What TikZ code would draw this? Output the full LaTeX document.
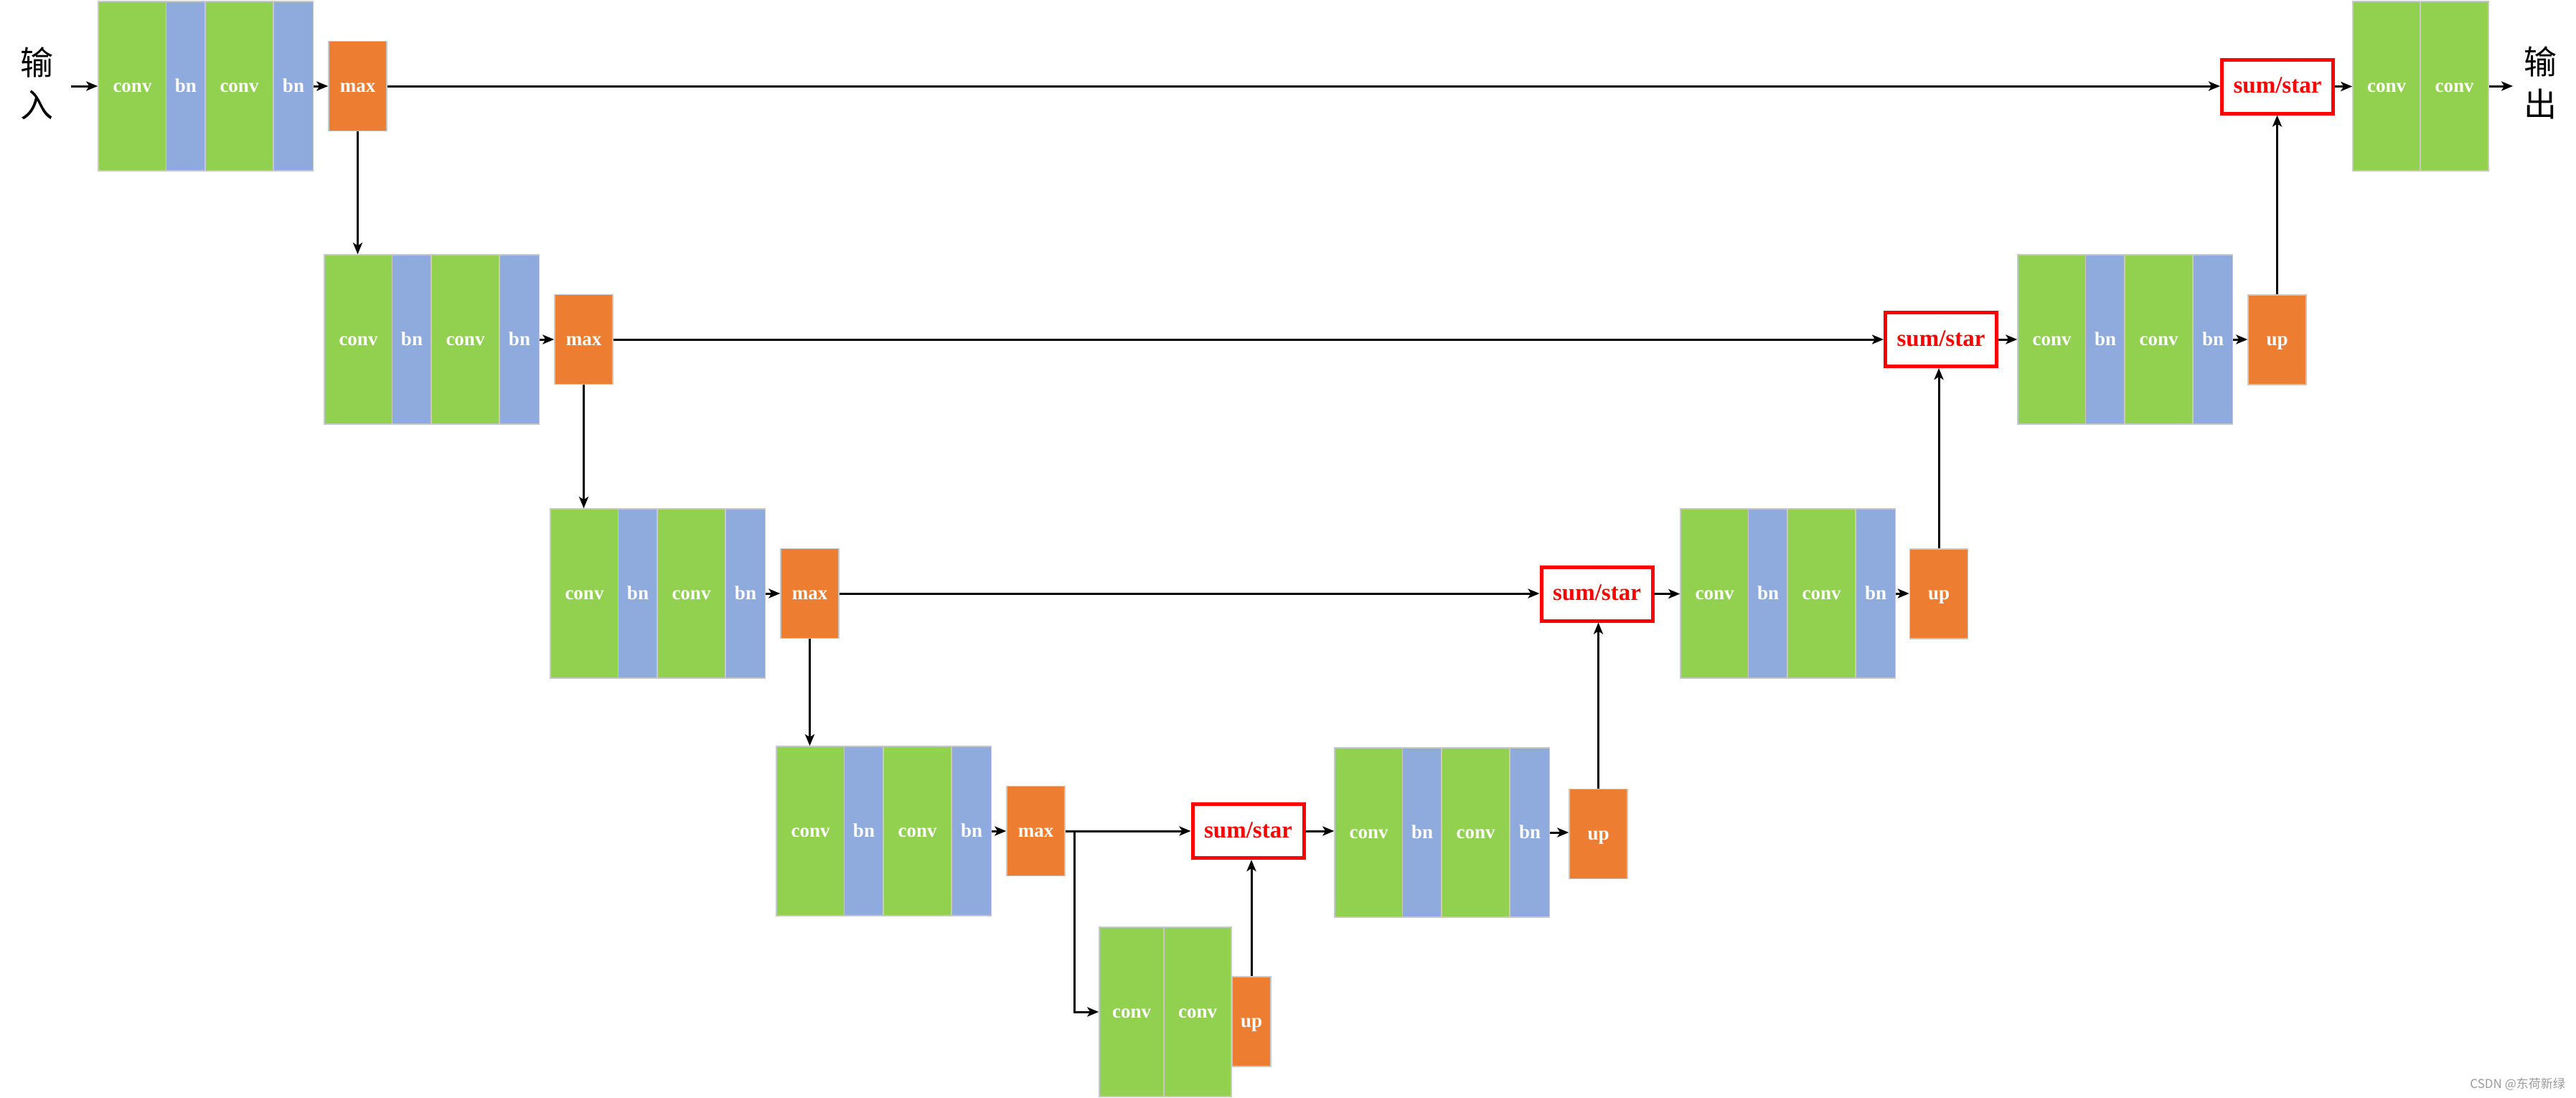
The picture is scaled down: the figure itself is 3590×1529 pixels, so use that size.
\documentclass[tikz,border=0pt]{standalone}
\usepackage{fontspec}
\setmainfont{Liberation Serif}
\newfontfamily\cjk{Noto Sans CJK SC}
\usetikzlibrary{arrows.meta}
\definecolor{cgreen}{HTML}{92D050}
\definecolor{cblue}{HTML}{8FAADC}
\definecolor{corange}{HTML}{ED7D31}
\definecolor{cedge}{HTML}{C8C8C8}
\definecolor{cred}{HTML}{FF0000}
\definecolor{cwm}{HTML}{9A9A9A}
\begin{document}
\begin{tikzpicture}[x=1pt,y=-1pt,
  blk/.style={draw=cedge,line width=1.5pt,inner sep=0pt,minimum height=236pt,
    text=white,font=\fontsize{27}{30}\selectfont\bfseries,text height=16pt,text depth=0pt},
  convbox/.style={blk,fill=cgreen,minimum width=95pt},
  bnbox/.style={blk,fill=cblue,minimum width=55pt},
  opbox/.style={blk,fill=corange,minimum width=81pt,minimum height=125pt},
  ssbox/.style={draw=cred,line width=5pt,fill=white,minimum width=155pt,minimum height=75pt,
    inner sep=0pt,text=cred,font=\fontsize{33}{36}\selectfont\bfseries,text height=18.5pt,text depth=0pt},
  conn/.style={line width=3pt,-{Stealth[length=16pt,width=13pt,inset=4pt]}},
  cjklabel/.style={font=\cjk\fontsize{46}{59}\selectfont,align=center,inner sep=0pt}]
\useasboundingbox (0,0) rectangle (3590,1529);

% left (encoder) rows
\foreach \k/\xo/\yc in {1/137/120, 2/452/473, 3/767/827, 4/1082/1158} {
  \node[convbox] (L\k-c1) at (\xo+47.5,\yc) {conv};
  \node[bnbox]   (L\k-b1) at (\xo+122,\yc) {bn};
  \node[convbox] (L\k-c2) at (\xo+196.5,\yc) {conv};
  \node[bnbox]   (L\k-b2) at (\xo+272,\yc) {bn};
  \node[opbox]   (L\k-m)  at (\xo+361.5,\yc) {max};
}

% right (decoder) rows
\foreach \k/\xo/\yc/\ux/\uy in {2/2812/473/3173.5/473.5, 3/2342/827/2702/827.5, 4/1860/1160/2227.5/1162} {
  \node[convbox] (R\k-c1) at (\xo+47.5,\yc) {conv};
  \node[bnbox]   (R\k-b1) at (\xo+122,\yc) {bn};
  \node[convbox] (R\k-c2) at (\xo+196.5,\yc) {conv};
  \node[bnbox]   (R\k-b2) at (\xo+272,\yc) {bn};
  \node[opbox]   (R\k-u)  at (\ux,\uy) {up};
}

% sum/star boxes
\node[ssbox] (S1) at (3174,120.5) {sum/star};
\node[ssbox] (S2) at (2705,473) {sum/star};
\node[ssbox] (S3) at (2225.5,827.5) {sum/star};
\node[ssbox] (S4) at (1739.5,1158) {sum/star};

% output convs
\node[convbox,minimum width=94pt] (O1) at (3326,120) {conv};
\node[convbox] (O2) at (3420.5,120) {conv};

% bottom block
\node[convbox,minimum width=90pt] (B1) at (1577,1410) {conv};
\node[convbox,minimum width=94pt] (B2) at (1669,1410) {conv};
\node[opbox,minimum width=54pt] (Bu) at (1744,1423.5) {up};

% labels
\node[cjklabel] (inlbl) at (51,116) {输\\入};
\node[cjklabel] (outlbl) at (3540,115) {输\\出};
\node[anchor=east,inner sep=0pt,text=cwm,font=\cjk\fontsize{17}{20}\selectfont] (wm) at (3575,1511) {CSDN @东荷新绿};

\coordinate (inpt) at (99,120);
\coordinate (outpt) at (3502,120);
\coordinate (br) at (1497,1158);

% connectors
\draw[conn] (inpt) -- (L1-c1.west);
\foreach \k in {1,2,3,4} {
  \draw[conn] (L\k-b2.east) -- (L\k-m.west);
}
\draw[conn] (L1-m.east) -- (L1-m.east -| S1.west);
\draw[conn] (L2-m.east) -- (L2-m.east -| S2.west);
\draw[conn] (L3-m.east) -- (L3-m.east -| S3.west);
\draw[conn] (L4-m.east) -- (L4-m.east -| S4.west);
\draw[conn] (L1-m.south) -- (L1-m.south |- L2-c1.north);
\draw[conn] (L2-m.south) -- (L2-m.south |- L3-c1.north);
\draw[conn] (L3-m.south) -- (L3-m.south |- L4-c1.north);
\draw[conn] (br) |- (B1.west);
\draw[conn] (Bu.north) -- (Bu.north |- S4.south);
\foreach \k in {2,3,4} {
  \draw[conn] (R\k-b2.east) -- (R\k-b2.east -| R\k-u.west);
}
\draw[conn] (S4.east) -- (S4.east -| R4-c1.west);
\draw[conn] (S3.east) -- (S3.east -| R3-c1.west);
\draw[conn] (S2.east) -- (S2.east -| R2-c1.west);
\draw[conn] (S1.east) -- (S1.east -| O1.west);
\draw[conn] (R4-u.north) -- (R4-u.north |- S3.south);
\draw[conn] (R3-u.north) -- (R3-u.north |- S2.south);
\draw[conn] (R2-u.north) -- (R2-u.north |- S1.south);
\draw[conn] (O2.east) -- (outpt);
\end{tikzpicture}
\end{document}
